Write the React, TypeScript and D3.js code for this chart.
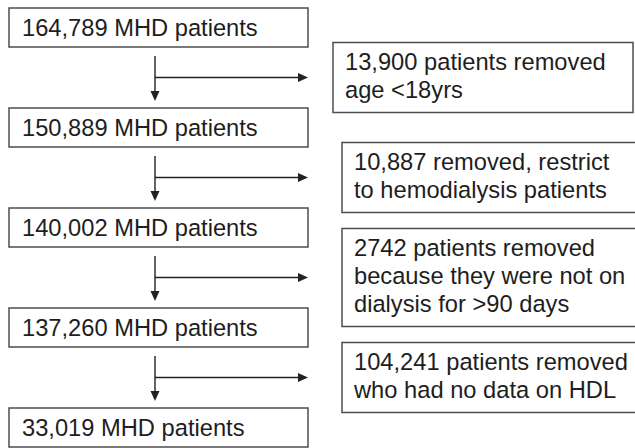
import React from 'react';
import * as d3 from 'd3';

const W = 635;
const H = 448;
const FONT = '"Liberation Sans", Arial, sans-serif';

// remaining cohort after each step
const cohortCounts = ["164,789", "150,889", "140,002", "137,260", "33,019"];
const cohortLabel = "MHD patients";

// exclusion boxes (one per step), each an array of text lines
const exclusions = [
  ["13,900 patients removed", "age <18yrs"],
  ["10,887 removed, restrict", "to hemodialysis patients"],
  ["2742 patients removed", "because they were not on", "dialysis for >90 days"],
  ["104,241 patients removed", "who had no data on HDL"],
];

const LEFT_X = 9;
const LEFT_W = 299;
const BOX_H = 39;
const LINE_H = 28;
const ARROW_X = 155;

export default function App() {
  // vertical position of each cohort box by step index
  const y = d3.scaleLinear().domain([0, cohortCounts.length - 1]).range([8, 408]);

  const arrowHead = (x: number, yy: number, dir: 'down' | 'right') =>
    dir === 'down'
      ? `M${x - 4.5},${yy - 10}L${x + 4.5},${yy - 10}L${x},${yy}Z`
      : `M${x - 10},${yy - 4.5}L${x - 10},${yy + 4.5}L${x},${yy}Z`;

  return (
    <svg width={W} height={H} style={{ position: 'absolute', left: 0, top: 0, background: '#fff' }}>
      {cohortCounts.map((c, i) => (
        <g key={c}>
          <rect x={LEFT_X} y={y(i)} width={LEFT_W} height={BOX_H} fill="#fff" stroke="#4d4d4d" strokeWidth={1.5} />
          <text x={22} y={y(i) + 28} fontFamily={FONT} fontSize={23.7} fill="#1e1e1e">
            {`${c} ${cohortLabel}`}
          </text>
        </g>
      ))}

      {exclusions.map((lines, i) => {
        const top = y(i) + BOX_H;
        const bottom = y(i + 1);
        const mid = (top + bottom) / 2;
        const h = lines.length * LINE_H + 14;
        const bx = i === 0 ? 333 : 342;
        const by = mid - h / 2;
        return (
          <g key={i}>
            {/* down arrow */}
            <line x1={ARROW_X} x2={ARROW_X} y1={top + 9} y2={bottom - 14} stroke="#222" strokeWidth={1.4} />
            <path d={arrowHead(ARROW_X, bottom - 7, 'down')} fill="#222" />
            {/* side arrow */}
            <line x1={ARROW_X} x2={300} y1={mid} y2={mid} stroke="#222" strokeWidth={1.4} />
            <path d={arrowHead(308, mid, 'right')} fill="#222" />
            {/* exclusion box */}
            <rect x={bx} y={by} width={300} height={h} fill="#fff" stroke="#4d4d4d" strokeWidth={1.5} />
            {lines.map((t, j) => (
              <text key={j} x={bx + 12} y={by + 27.5 + j * LINE_H} fontFamily={FONT} fontSize={23.7} fill="#1e1e1e">
                {t}
              </text>
            ))}
          </g>
        );
      })}
    </svg>
  );
}
